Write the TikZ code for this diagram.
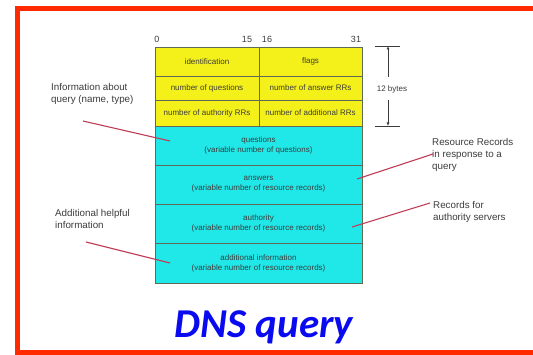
\documentclass[tikz,border=0pt]{standalone}
\usepackage{fontspec}
\setmainfont{Liberation Sans}
\newfontfamily\titlefont{Carlito}
\usetikzlibrary{arrows.meta}
\definecolor{framered}{HTML}{FF2A00}
\definecolor{hdryellow}{HTML}{F4F01A}
\definecolor{bodycyan}{HTML}{20E8E8}
\definecolor{celledge}{HTML}{5E6A55}
\definecolor{txtgray}{HTML}{3C3C3C}
\definecolor{pointer}{HTML}{C03C55}
\definecolor{titleblue}{HTML}{0A0AF0}
\tikzset{
  x=1pt, y=-1pt,
  cell/.style={draw=celledge, line width=0.7pt, inner sep=0pt},
  hdrcell/.style={cell, fill=hdryellow},
  bodycell/.style={cell, fill=bodycyan},
  celltext/.style={text=txtgray, font=\fontsize{8}{10}\selectfont, align=center},
  sidetext/.style={text=txtgray, font=\fontsize{9.8}{12}\selectfont, align=left, anchor=north west, inner sep=0pt},
  bitlabel/.style={text=txtgray, font=\fontsize{9}{10}\selectfont, inner sep=0pt},
  pointerline/.style={draw=pointer, line width=1.1pt},
  dimline/.style={draw=txtgray, line width=0.7pt},
}
\begin{document}
\begin{tikzpicture}
\useasboundingbox (0,0) rectangle (533,355);
\fill[white] (0,0) rectangle (533,355);
% red frame (right side lies beyond the picture)
\fill[framered] (15,6) rectangle (533,11);
\fill[framered] (15,350) rectangle (533,355);
\fill[framered] (15,6) rectangle (20,355);

% header cells
\path[hdrcell] (155,47) rectangle (259,76) node[celltext, midway] (ident) {identification};
\path[hdrcell] (259,47) rectangle (362,76) node[celltext, midway] (flags) {flags};
\path[hdrcell] (155,76) rectangle (259,100) node[celltext, midway] (nq) {number of questions};
\path[hdrcell] (259,76) rectangle (362,100) node[celltext, midway] (nans) {number of answer RRs};
\path[hdrcell] (155,100) rectangle (259,126) node[celltext, midway] (nauth) {number of authority RRs};
\path[hdrcell] (259,100) rectangle (362,126) node[celltext, midway] (nadd) {number of additional RRs};

% body cells
\path[bodycell] (155,126) rectangle (362,165) node[celltext, midway] (quest) {questions\\(variable number of questions)};
\path[bodycell] (155,165) rectangle (362,204) node[celltext, midway] (answ) {answers\\(variable number of resource records)};
\path[bodycell] (155,204) rectangle (362,243) node[celltext, midway] (auth) {authority\\(variable number of resource records)};
\path[bodycell] (155,243) rectangle (362,283) node[celltext, midway] (addl) {additional information\\(variable number of resource records)};

% bit labels
\node[bitlabel] (b0) at (157,39) {0};
\node[bitlabel] (b15) at (247,39) {15};
\node[bitlabel] (b16) at (267,39) {16};
\node[bitlabel] (b31) at (356,39) {31};

% 12 bytes dimension
\coordinate (tt1) at (375,46);
\coordinate (tt2) at (400,46);
\coordinate (bt1) at (375,126);
\coordinate (bt2) at (400,126);
\coordinate (dtop) at (388,46);
\coordinate (dbot) at (388,126);
\coordinate (dtopfree) at (388,77);
\coordinate (dbotfree) at (388,100);
\draw[dimline] (tt1) -- (tt2);
\draw[dimline] (bt1) -- (bt2);
\node[bitlabel, font=\fontsize{8}{9}\selectfont] (twelve) at (392,89) {12 bytes};
\draw[dimline, -{Latex[length=3.5pt,width=3pt]}] (dtopfree) -- (dtop);
\draw[dimline, -{Latex[length=3.5pt,width=3pt]}] (dbotfree) -- (dbot);

% side labels
\node[sidetext] (infoq) at (51,83) {Information about\\query (name, type)};
\node[sidetext] (addinfo) at (55,209) {Additional helpful\\information};
\node[sidetext] (rrresp) at (432,138) {Resource Records\\in response to a\\query};
\node[sidetext] (recauth) at (433,201) {Records for\\authority servers};

% pointer lines
\coordinate (p1s) at (83,121);
\coordinate (p1e) at (170,141);
\coordinate (p2s) at (86,242);
\coordinate (p2e) at (170,263);
\coordinate (p3s) at (433,154);
\coordinate (p3e) at (357,179);
\coordinate (p4s) at (430,203);
\coordinate (p4e) at (352,227);
\draw[pointerline] (p1s) -- (p1e);
\draw[pointerline] (p2s) -- (p2e);
\draw[pointerline] (p3s) -- (p3e);
\draw[pointerline] (p4s) -- (p4e);

% title
\node[text=titleblue, font=\titlefont\fontsize{41}{42}\selectfont\bfseries\itshape, anchor=base, inner sep=0pt] (title) at (264,338) {DNS query};
\end{tikzpicture}
\end{document}
